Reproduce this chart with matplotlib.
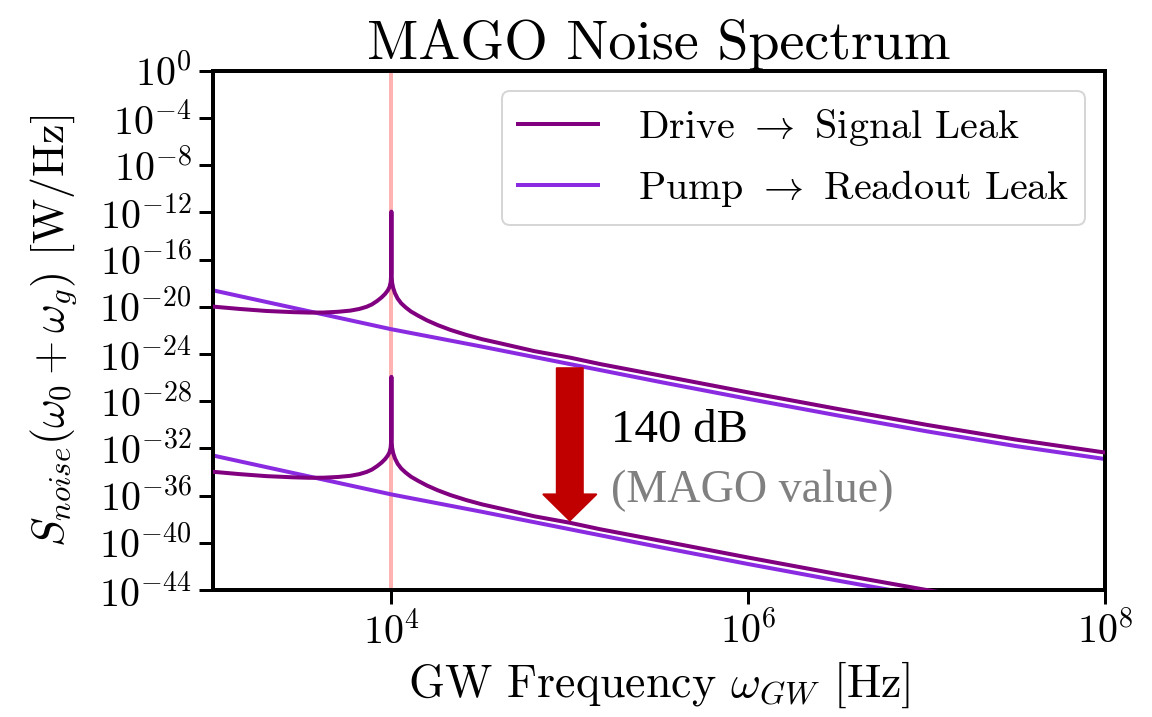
import matplotlib
matplotlib.use('Agg')
import matplotlib.pyplot as plt
import numpy as np
from matplotlib.ticker import NullLocator

# values (log10 of frequency in Hz, log10 of S in W/Hz)
drive_f_exp = [3.00, 3.15, 3.30, 3.45, 3.54, 3.62, 3.70, 3.77, 3.82, 3.86, 3.89, 3.92,
               3.945, 3.965, 3.98, 3.99, 3.996, 3.999, 3.9998, 4.0,
               4.0002, 4.001, 4.004, 4.01, 4.02, 4.035, 4.055, 4.08, 4.11, 4.15, 4.2,
               4.26, 4.33, 4.42, 4.51, 4.61, 4.8, 5.0, 5.17, 5.5, 6.0, 6.5, 7.0, 7.5, 8.0]
drive_high_exp = [-19.98, -20.18, -20.35, -20.45, -20.49, -20.48, -20.42, -20.32, -20.18, -20.0, -19.8, -19.5,
                  -19.2, -18.9, -18.6, -18.3, -17.9, -17.2, -16.0, -11.93,
                  -16.0, -17.3, -17.95, -18.4, -18.85, -19.3, -19.7, -20.05, -20.4, -20.75, -21.15,
                  -21.55, -21.95, -22.38, -22.75, -23.09, -23.75, -24.3, -24.85, -25.8, -27.25, -28.65,
                  -30.0, -31.25, -32.35]
drive_low_exp = [-33.98, -34.18, -34.35, -34.45, -34.49, -34.48, -34.42, -34.32, -34.18, -34.0, -33.8, -33.5,
                 -33.2, -32.9, -32.6, -32.3, -31.9, -31.2, -30.0, -25.93,
                 -30.0, -31.3, -31.95, -32.4, -32.85, -33.3, -33.7, -34.05, -34.4, -34.75, -35.15,
                 -35.55, -35.95, -36.38, -36.75, -37.09, -37.75, -38.3, -38.85, -39.8, -41.25, -42.65,
                 -44.0, -45.25, -46.35]

pump_f_exp = [3.0, 3.5, 4.0, 4.5, 5.0, 5.5, 6.0, 6.5, 7.0, 7.5, 8.0]
pump_high_exp = [-18.6, -20.25, -21.9, -23.35, -24.85, -26.35, -27.8, -29.2, -30.55, -31.8, -32.9]
pump_low_exp = [-32.6, -34.25, -35.9, -37.35, -38.85, -40.35, -41.8, -43.2, -44.55, -45.8, -46.9]

resonance_hz = 1e4
arrow_f = 1e5
arrow_top, arrow_bottom = 10**-25.2, 10**-38.1

plt.rcParams['font.family'] = 'serif'
plt.rcParams['font.serif'] = ['cmr10']
plt.rcParams['mathtext.fontset'] = 'cm'
plt.rcParams['axes.formatter.use_mathtext'] = True
plt.rcParams['axes.unicode_minus'] = False

fig = plt.figure(figsize=(8, 4.98), dpi=144)
ax = fig.add_axes([0.1849, 0.1771, 0.7743, 0.7239])

ax.axvline(resonance_hz, color='red', alpha=0.3, lw=2, zorder=1)

ax.plot(10**np.array(drive_f_exp), 10**np.array(drive_high_exp), color='#800080', lw=2,
        label='Drive $\\rightarrow$ Signal Leak', zorder=3)
ax.plot(10**np.array(pump_f_exp), 10**np.array(pump_high_exp), color='#8a2be2', lw=2,
        label='Pump $\\rightarrow$ Readout Leak', zorder=2)
ax.plot(10**np.array(drive_f_exp), 10**np.array(drive_low_exp), color='#800080', lw=2, zorder=3)
ax.plot(10**np.array(pump_f_exp), 10**np.array(pump_low_exp), color='#8a2be2', lw=2, zorder=2)

ax.annotate('', xy=(arrow_f, arrow_bottom), xytext=(arrow_f, arrow_top),
            arrowprops=dict(arrowstyle='simple,head_width=1.32,head_length=0.65,tail_width=0.65',
                            color='#c00000', mutation_scale=20, shrinkA=0, shrinkB=0), zorder=4)
ax.text(10**5.23, 10**-30.5, '140 dB', fontsize=23.5, family='Liberation Serif', va='center')
ax.text(10**5.23, 10**-35.6, '(MAGO value)', fontsize=23, family='Liberation Serif',
        color='gray', va='center')

ax.set_xscale('log')
ax.set_yscale('log')
ax.set_xlim(1e3, 1e8)
ax.set_ylim(1e-44, 1e0)
ax.set_xticks([1e4, 1e6, 1e8])
ax.set_yticks([10.0**(-k) for k in range(0, 45, 4)])
ax.xaxis.set_minor_locator(NullLocator())
ax.yaxis.set_minor_locator(NullLocator())
ax.tick_params(labelsize=20, length=7, width=1.5, direction='out')
for s in ax.spines.values():
    s.set_linewidth(2)

ax.set_title('MAGO Noise Spectrum', fontsize=28)
ax.set_xlabel('GW Frequency $\\omega_{GW}$ [Hz]', fontsize=23)
ax.set_ylabel('$S_{noise}(\\omega_0 + \\omega_g)$ [W/Hz]', fontsize=22, labelpad=10)
ax.legend(loc='upper right', fontsize=20, borderaxespad=0.5, handletextpad=1.0)

fig.savefig('out.png', dpi=144)
